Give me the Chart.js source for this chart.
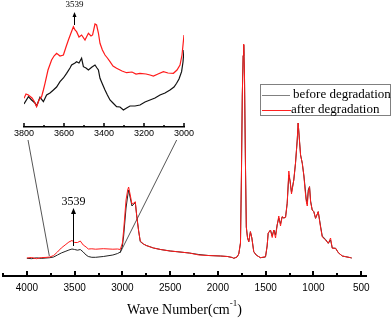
<!DOCTYPE html>
<html><head><meta charset="utf-8">
<script src="https://cdn.jsdelivr.net/npm/chart.js@4"></script>
<style>
html,body{margin:0;padding:0;background:#fff;}
#wrap{position:relative;width:392px;height:319px;overflow:hidden;background:#fff;}
#main{position:absolute;left:0;top:0;}
#inset{position:absolute;left:0;top:0;}
#title{position:absolute;left:3px;width:363px;top:302px;text-align:center;font:14px "Liberation Serif",serif;color:#000;line-height:16px;white-space:nowrap}
#title sup{font-size:9px;line-height:9px;vertical-align:top;position:relative;top:-3px}
#legend{position:absolute;left:260px;top:84px;width:129px;height:30px;border:1px solid #808080;font:13px "Liberation Serif",serif;color:#000;}
.row{position:absolute;left:1px;height:15px;line-height:15px;white-space:nowrap}
.sw{display:inline-block;vertical-align:middle;height:1px;margin-right:3px}
</style>
</head><body>
<div id="wrap">
<canvas id="main" width="392" height="319"></canvas>
<canvas id="inset" width="200" height="150"></canvas>
<div id="title">Wave Number(cm<sup>-1</sup>)</div>
<div id="legend">
 <div class="row" style="top:1px"><span class="sw" style="width:28px;background:#808080"></span>before degradation</div>
 <div class="row" style="top:16px"><span class="sw" style="width:29px;background:#ff2020;margin-right:0"></span>after degradation</div>
</div>
</div>
<script>
// ---------- main spectrum ----------
const WAVENUMBERS = [4000,3950,3900,3850,3800,3760,3720,3680,3640,3600,3560,3528,3500,3470,3441,3410,3380,3357,3320,3280,3200,3100,3050,3022,3000,2987,2962,2945,2935,2920,2900,2880,2865,2850,2830,2813,2780,2750,2675,2600,2500,2428,2300,2200,2100,1974,1900,1850,1834,1800,1782,1764,1754,1745,1736,1730,1722,1713,1703,1690,1677,1660,1645,1625,1600,1555,1502,1485,1474,1450,1432,1415,1397,1380,1363,1345,1328,1310,1292,1275,1258,1245,1230,1206,1188,1170,1160,1150,1135,1117,1100,1090,1076,1065,1055,1041,1030,1013,996,978,950,926,908,873,845,821,803,768,740,698,663,611,600];
const BEFORE = [17.7,17.3,18.2,17.6,18,18.3,19,21,23,24.5,26,27,26.5,25.8,26.5,24,21,19.5,18.7,18.7,19.5,21,22.5,24,30,40,68,80,86,79,70,72,73.5,60,45,34.3,32,30.5,28,26.5,25,24.3,23,21.5,20.5,20,19.5,18.5,17.7,19,22,33,100,180,220,231,200,120,49,38,34.3,44.3,38,24.3,21,18.3,19,30,42.7,46,40,46,41,51,58,52,59,58,59,72.7,101,95,83.5,96,112.7,136,153,140,121,112.7,100,91,77,72,86,89.3,75,66,64.3,57.7,64.3,50,40,36.5,32.7,36,28,27.7,23.3,20,19.3,18.3,18];
const AFTER = [18,18.5,17.3,18.4,18.6,19,20.5,24,28,31,34,35.5,33.5,33.5,35,31,29,27,27.2,26.8,27.3,26.8,27,26.5,33,46,76,86,89,82,72,73,74.3,60,45,35,32,30.5,28,26.5,25,24.3,23,21,20.5,20,19.5,18.5,17.7,19,22,33,100,180,221,232,200,120,49,38,34.3,44.3,38,24.3,21,18.3,19.3,30,43,46,38.5,46,38,51,60,50,59.5,58,58.5,73,105,95,82,96,113,136,153,140,121,112.7,100,88,75,70,83,89.3,74,66,64.3,57.7,64.3,49,39,36,32.7,38,27.7,27.7,23.3,20,19.3,18.3,18];
const MAIN_MAJOR_TICKS = [4000,3500,3000,2500,2000,1500,1000,500];
const MAIN_MINOR_TICKS = [4250,3750,3250,2750,2250,1750,1250,750];
// zoom connector lines (main-chart coordinates)
const CONNECT_LEFT_WN = [3765, 3988];
const CONNECT_LEFT_Y = [20, 136];
const CONNECT_RIGHT_WN = [3025, 2432];
const CONNECT_RIGHT_Y = [23, 136];
const MAIN_MARK = {label:'3539', x:3514, yFrom:30, yTo:68, textY:74};

// ---------- inset (3800-3000) ----------
const INSET_BEFORE_WN = [3800,3778,3762,3745,3737,3720,3703,3687,3670,3653,3637,3620,3603,3587,3570,3562,3545,3537,3525,3512,3503,3490,3478,3460,3445,3435,3428,3420,3408,3395,3383,3370,3355,3337,3320,3303,3287,3270,3245,3220,3195,3170,3145,3120,3095,3070,3050,3037,3025,3012,3005,3000];
const INSET_BEFORE = [23,30.3,27,24,21,29.7,25.3,32,34,37,40,45.3,49,53.7,59,62,64,65.3,64,68.7,60.3,59,57,60,62,59,57,48.7,43,37,32,27,24,20.3,20,17,19,21,21,22,25,27,29,32,34,37,40,43.7,48,55.3,65,77];
const INSET_AFTER_WN = [3800,3790,3778,3760,3750,3737,3725,3712,3703,3695,3680,3662,3650,3637,3620,3603,3590,3578,3565,3553,3545,3537,3525,3512,3495,3485,3478,3465,3457,3445,3437,3428,3420,3408,3395,3383,3370,3355,3337,3310,3287,3260,3240,3220,3190,3170,3153,3130,3103,3080,3053,3035,3020,3010,3000];
const INSET_AFTER = [28.7,33,32,29,26,20.3,27,30.3,37,43.7,57,67,71,73.7,71,72,80,87,94,100.3,97,95.3,90,92,87,91,93.7,91,92,103,102,94,83.7,77,72,69,65.3,61,58.7,56,54.3,55,53,53.7,53,52,51,53,55.3,54,53.7,57,62,72,92];
const INSET_MAJOR_TICKS = [3800,3600,3400,3200,3000];
const INSET_MINOR_TICKS = [3700,3500,3300,3100];
const INSET_MARK = {label:'3539', x:3550, yFrom:102, yTo:115, textY:122};

const pts = (xs, ys) => xs.map((x, i) => ({x, y: ys[i]}));

const tickMarks = {
  id: 'tickMarks',
  afterDraw(chart, args, o) {
    const s = chart.scales.x, ctx = chart.ctx, y = s.top;
    ctx.save();
    ctx.strokeStyle = '#000';
    ctx.lineWidth = o.width;
    const draw = (list, len) => list.forEach(v => {
      const x = Math.round(s.getPixelForValue(v));
      ctx.beginPath(); ctx.moveTo(x, y); ctx.lineTo(x, y - len); ctx.stroke();
    });
    draw(o.major, o.majorLen);
    draw(o.minor, o.minorLen);
    ctx.restore();
  }
};
const arrowMark = {
  id: 'arrowMark',
  afterDatasetsDraw(chart, args, o) {
    const xs = chart.scales.x, ys = chart.scales.y, ctx = chart.ctx;
    const m = o.mark;
    const x = Math.round(xs.getPixelForValue(m.x)) + 0.5;
    const y0 = ys.getPixelForValue(m.yFrom), y1 = ys.getPixelForValue(m.yTo);
    ctx.save();
    ctx.strokeStyle = '#000'; ctx.fillStyle = '#000'; ctx.lineWidth = 1;
    ctx.beginPath(); ctx.moveTo(x, y0); ctx.lineTo(x, y1 + o.head); ctx.stroke();
    ctx.beginPath(); ctx.moveTo(x, y1); ctx.lineTo(x - o.headW, y1 + o.head); ctx.lineTo(x + o.headW, y1 + o.head); ctx.closePath(); ctx.fill();
    ctx.font = o.font; ctx.textAlign = 'center'; ctx.textBaseline = 'middle';
    ctx.fillText(m.label, x, ys.getPixelForValue(m.textY));
    ctx.restore();
  }
};
const plainNum = v => String(v);

new Chart(document.getElementById('main'), {
  type: 'line',
  data: { datasets: [
    {data: pts(WAVENUMBERS, AFTER), borderColor: '#ff1a1a', borderWidth: 1, pointRadius: 0, order: 0},
    {data: pts(WAVENUMBERS, BEFORE), borderColor: '#222', borderWidth: 1, pointRadius: 0, order: 1},
    {data: pts(CONNECT_LEFT_WN, CONNECT_LEFT_Y), borderColor: '#555', borderWidth: 1, pointRadius: 0, order: 2},
    {data: pts(CONNECT_RIGHT_WN, CONNECT_RIGHT_Y), borderColor: '#555', borderWidth: 1, pointRadius: 0, order: 2}
  ]},
  options: {
    responsive: false, animation: false, devicePixelRatio: 1,
    layout: {padding: {left: 3, right: 26, top: 0, bottom: 0}},
    plugins: {
      legend: {display: false}, tooltip: {enabled: false},
      tickMarks: {major: MAIN_MAJOR_TICKS, minor: MAIN_MINOR_TICKS, majorLen: 5, minorLen: 3, width: 2},
      arrowMark: {mark: MAIN_MARK, head: 6, headW: 2.5, font: '12px "Liberation Serif", serif'}
    },
    scales: {
      x: {type: 'linear', reverse: true, min: 450, max: 4250,
        afterBuildTicks: s => { s.ticks = MAIN_MAJOR_TICKS.map(v => ({value: v})); },
        afterFit: s => { s.height = 43; },
        grid: {display: false, drawTicks: false},
        border: {display: true, color: '#000', width: 2},
        ticks: {font: {family: 'Liberation Sans', size: 10}, color: '#000', padding: 6, maxRotation: 0, autoSkip: false, callback: plainNum}
      },
      y: {display: false, min: 0, max: 276}
    }
  },
  plugins: [tickMarks, arrowMark]
});

new Chart(document.getElementById('inset'), {
  type: 'line',
  data: { datasets: [
    {data: pts(INSET_AFTER_WN, INSET_AFTER), borderColor: '#ff1a1a', borderWidth: 1.2, pointRadius: 0},
    {data: pts(INSET_BEFORE_WN, INSET_BEFORE), borderColor: '#111', borderWidth: 1.2, pointRadius: 0}
  ]},
  options: {
    responsive: false, animation: false, devicePixelRatio: 1,
    layout: {padding: {left: 24, right: 16, top: 0, bottom: 0}},
    plugins: {
      legend: {display: false}, tooltip: {enabled: false},
      tickMarks: {major: INSET_MAJOR_TICKS, minor: INSET_MINOR_TICKS, majorLen: 4, minorLen: 2, width: 1.5},
      arrowMark: {mark: INSET_MARK, head: 5, headW: 2, font: '9px "Liberation Serif", serif'}
    },
    scales: {
      x: {type: 'linear', reverse: true, min: 3000, max: 3800,
        afterBuildTicks: s => { s.ticks = INSET_MAJOR_TICKS.map(v => ({value: v})); },
        afterFit: s => { s.height = 23; },
        grid: {display: false, drawTicks: false},
        border: {display: true, color: '#000', width: 1.5},
        ticks: {font: {family: 'Liberation Sans', size: 9}, color: '#000', padding: 1, maxRotation: 0, autoSkip: false, callback: plainNum}
      },
      y: {display: false, min: 0, max: 127}
    }
  },
  plugins: [tickMarks, arrowMark]
});
</script>
</body></html>
